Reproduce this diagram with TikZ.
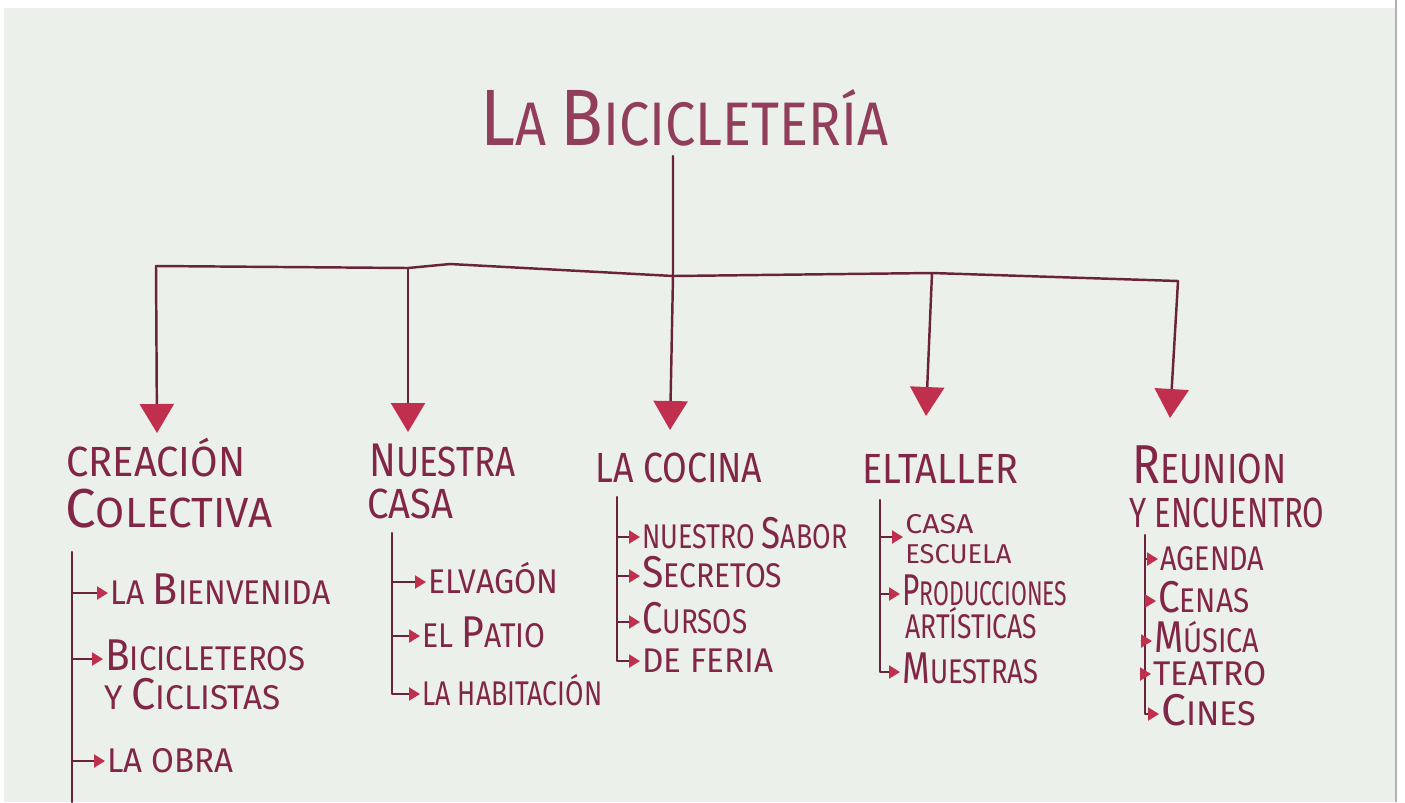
\documentclass[tikz,border=0pt]{standalone}
\usepackage{fontspec}
\setmainfont{Fira Sans}
\usepackage{graphicx}
\usetikzlibrary{arrows.meta}
\newdimen\pxu \pxu=0.02cm
\newcommand\fitw[2]{\resizebox{#1\pxu}{\height}{#2}}
\newcommand\ini[1]{\scalebox{1.3}{#1}}
\newcommand\inis[1]{\scalebox{1.12}{#1}}
\newcommand\ttlf{\fontsize{35pt}{40pt}\selectfont}
\newcommand\catf{\fontsize{24pt}{28pt}\selectfont}
\newcommand\itmf{\fontsize{19.5pt}{23pt}\selectfont}
\newcommand\smlf{\fontsize{15.5pt}{18pt}\selectfont}
\newcommand\tgt[2]{\coordinate (#1) at ([shift={(-0.04cm,0.22cm)}]#2.base west);}
\definecolor{paper}{RGB}{235,240,235}
\definecolor{ink}{RGB}{130,38,72}
\definecolor{lineink}{RGB}{105,35,58}
\definecolor{headc}{RGB}{192,48,78}
\definecolor{titleink}{RGB}{145,62,92}
\tikzset{
  lbl/.style={anchor=base west, inner sep=0pt, text=ink},
  ttl/.style={lbl, font=\ttlf, text=titleink},
  cat/.style={lbl, font=\catf},
  itm/.style={lbl, font=\itmf},
  sml/.style={lbl, font=\smlf},
  inkln/.style={draw=lineink, line width=1.4pt, line cap=round, line join=round},
  drop/.style={inkln, -{Triangle[width=0.68cm,length=0.58cm,color=headc]}},
  sub/.style={inkln, line width=1.2pt, -{Triangle[width=0.26cm,length=0.22cm,color=headc]}},
}
\begin{document}
\begin{tikzpicture}[x=0.02cm, y=-0.02cm]
\useasboundingbox (0,0) rectangle (1405,802);
\fill[white] (0,0) rectangle (1405,802);
\fill[paper] (4,8) rectangle (1395,802);
\draw[gray!60, line width=1.5pt] (1396,0) -- (1396,802);

% title
\node[ttl] (t) at (480,145) {\fitw{408}{\ini{L}A \ini{B}ICICLETERÍA}};

% categories
\node[cat] (c1)  at (66,476)   {\fitw{179}{CREACIÓN}};
\node[cat] (c1b) at (65,527)   {\fitw{207}{\ini{C}OLECTIVA}};
\node[cat] (c2)  at (369,476)  {\fitw{146}{\inis{N}UESTRA}};
\node[cat] (c2b) at (367,518)  {\fitw{86}{CASA}};
\node[cat] (c3)  at (595,482)  {\fitw{167}{LA COCINA}};
\node[cat] (c4)  at (862,483)  {\fitw{156}{ELTALLER}};
\node[cat] (c5)  at (1132,483) {\fitw{154}{\ini{R}EUNION}};
\node[cat] (c5b) at (1129,527) {\fitw{195}{Y ENCUENTRO}};

% items
\node[itm] (i11)  at (110,604)  {\fitw{220}{LA \ini{B}IENVENIDA}};
\node[itm] (i12)  at (105,670)  {\fitw{200}{\ini{B}ICICLETEROS}};
\node[itm] (i12b) at (104,709)  {\fitw{176}{Y \ini{C}ICLISTAS}};
\node[itm] (i13)  at (107,772)  {\fitw{126}{LA OBRA}};
\node[itm] (i21)  at (428,593)  {\fitw{130}{ELVAGÓN}};
\node[itm] (i22)  at (422,647)  {\fitw{123}{EL \ini{P}ATIO}};
\node[itm] (i23)  at (422,705)  {\fitw{180}{LA HABITACIÓN}};
\node[itm] (i31)  at (642,548)  {\fitw{205}{NUESTRO \ini{S}ABOR}};
\node[itm] (i32)  at (642,587)  {\fitw{140}{\ini{S}ECRETOS}};
\node[itm] (i33)  at (642,633)  {\fitw{105}{\ini{C}URSOS}};
\node[itm] (i34)  at (642,672)  {\fitw{131}{DE FERIA}};
\node[sml] (i41)  at (905,533)  {\fitw{68}{CASA}};
\node[sml] (i41b) at (905,563)  {\fitw{106}{ESCUELA}};
\node[itm] (i42)  at (902,605)  {\fitw{165}{\ini{P}RODUCCIONES}};
\node[itm] (i42b) at (905,638)  {\fitw{132}{ARTÍSTICAS}};
\node[itm] (i43)  at (902,683)  {\fitw{136}{\ini{M}UESTRAS}};
\node[itm] (i51)  at (1160,570) {\fitw{104}{AGENDA}};
\node[itm] (i52)  at (1158,612) {\fitw{91}{\ini{C}ENAS}};
\node[itm] (i53)  at (1154,652) {\fitw{105}{\ini{M}ÚSICA}};
\node[itm] (i54)  at (1153,685) {\fitw{113}{TEATRO}};
\node[itm] (i55)  at (1161,725) {\fitw{95}{\ini{C}INES}};

% bus and drops
\coordinate (b1) at (156,266);
\coordinate (b2) at (408,268);
\coordinate (bk) at (450,264);
\coordinate (bt) at (673,276);
\coordinate (b4) at (932,273);
\coordinate (b5) at (1178,281);
\coordinate (a1) at (157,433);
\coordinate (a2) at (408,432);
\coordinate (a3) at (670,430);
\coordinate (a4) at (926,416);
\coordinate (a5) at (1170,418);
\path (t.south -| bt) ++(0,10) coordinate (tt);
\draw[drop] (tt) -- (bt) -- (a3);
\draw[inkln] (b1) -- (b2) -- (bk) -- (bt) -- (b4) -- (b5);
\draw[drop] (b1) -- (a1);
\draw[drop] (b2) -- (a2);
\draw[drop] (b4) -- (a4);
\draw[drop] (b5) -- (a5);

% sub-branch targets
\tgt{p11}{i11}\tgt{p12}{i12}\tgt{p13}{i13}
\tgt{p21}{i21}\tgt{p22}{i22}\tgt{p23}{i23}
\tgt{p31}{i31}\tgt{p32}{i32}\tgt{p33}{i33}\tgt{p34}{i34}
\coordinate (p41) at ([shift={(-0.04cm,-0.08cm)}]i41.base west);
\tgt{p42}{i42}\tgt{p43}{i43}
\tgt{p51}{i51}\tgt{p52}{i52}\tgt{p53}{i53}\tgt{p54}{i54}\tgt{p55}{i55}

\coordinate (k1) at (72,552);
\coordinate (k1e) at (72,802);
\coordinate (k2) at (392,533);
\coordinate (k3) at (617,497);
\coordinate (k4) at (880,500);
\coordinate (k5) at (1145,535);

% column 1
\draw[inkln, line width=1.2pt] (k1) -- (k1e);
\draw[sub] (k1 |- p11) -- (p11);
\draw[sub] (k1 |- p12) -- (p12);
\draw[sub] (k1 |- p13) -- (p13);
% column 2
\draw[sub] (k2) -- (k2 |- p23) -- (p23);
\draw[sub] (k2 |- p21) -- (p21);
\draw[sub] (k2 |- p22) -- (p22);
% column 3
\draw[sub] (k3) -- (k3 |- p34) -- (p34);
\draw[sub] (k3 |- p31) -- (p31);
\draw[sub] (k3 |- p32) -- (p32);
\draw[sub] (k3 |- p33) -- (p33);
% column 4
\draw[sub] (k4) -- (k4 |- p43) -- (p43);
\draw[sub] (k4 |- p41) -- (p41);
\draw[sub] (k4 |- p42) -- (p42);
% column 5
\draw[sub] (k5) -- (k5 |- p55) -- (p55);
\draw[sub] (k5 |- p51) -- (p51);
\draw[sub] (k5 |- p52) -- (p52);
\draw[sub] (k5 |- p53) -- (p53);
\draw[sub] (k5 |- p54) -- (p54);
\end{tikzpicture}
\end{document}
